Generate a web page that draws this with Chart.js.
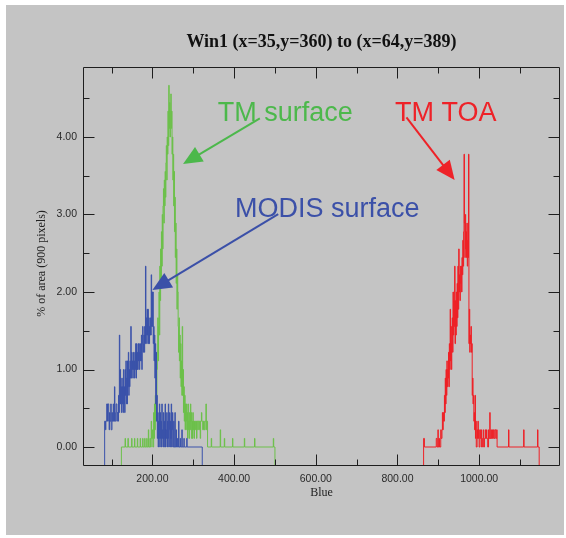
<!DOCTYPE html>
<html><head><meta charset="utf-8">
<script src="https://cdn.jsdelivr.net/npm/chart.js@4.4.0/dist/chart.umd.min.js"></script>
<style>html,body{margin:0;padding:0;background:#fff;}</style>
</head><body>
<canvas id="c" width="566" height="538"></canvas>
<script>
// ---- text ----
const chartTitle = "Win1 (x=35,y=360) to (x=64,y=389)";
const xTitle = "Blue";
const yTitle = "% of area (900 pixels)";
const totalPixels = 900;

// ---- ticks ----
const xMajorTicks = [200, 400, 600, 800, 1000];
const xMinorTicks = [100, 300, 500, 700, 900, 1100];
const yMajorTicks = [0, 1, 2, 3, 4];
const yMinorTicks = [0.5, 1.5, 2.5, 3.5, 4.5];
const xRange = [30, 1198];
const yRange = [-0.245, 4.903];

// ---- histogram bins: [bin value, pixel count] ----
const modisBins = [[83,3],[85,2],[86,3],[88,5],[90,3],[91,5],[93,3],[94,2],[95,4],[96,3],[98,5],[99,2],[101,4],[102,3],[104,5],[105,3],[107,7],[108,3],[110,4],[111,5],[113,3],[114,4],[116,3],[117,6],[118,4],[119,13],[120,5],[121,9],[122,5],[123,7],[124,4],[125,8],[126,5],[127,7],[128,4],[129,9],[130,5],[131,7],[132,4],[133,9],[134,6],[135,10],[136,5],[137,8],[138,5],[139,10],[140,7],[141,11],[142,6],[143,9],[144,7],[145,10],[146,8],[147,14],[148,8],[149,11],[150,9],[151,10],[152,8],[153,11],[154,9],[155,10],[156,8],[157,11],[158,9],[159,12],[160,8],[161,12],[162,9],[163,11],[164,9],[165,12],[166,10],[167,12],[168,9],[169,11],[170,10],[171,12],[172,10],[173,13],[174,9],[175,12],[176,14],[177,11],[178,12],[179,13],[180,11],[181,14],[182,12],[183,21],[184,13],[185,15],[186,12],[187,16],[188,13],[189,16],[190,12],[191,15],[192,12],[193,14],[194,13],[195,15],[196,13],[197,20],[198,14],[199,18],[200,14],[201,18],[202,12],[203,14],[204,10],[205,13],[206,8],[207,12],[208,5],[209,11],[210,3],[211,6],[212,1],[213,4],[214,0],[215,3],[216,1],[217,5],[218,0],[219,4],[220,1],[221,3],[222,0],[223,5],[224,1],[225,2],[226,0],[227,4],[228,1],[229,3],[230,0],[231,5],[232,0],[233,2],[234,1],[235,4],[236,0],[237,3],[238,1],[239,5],[240,0],[241,2],[242,4],[243,0],[244,3],[245,1],[246,5],[247,0],[248,2],[249,4],[250,0],[252,3],[253,0],[255,4],[256,0],[258,2],[259,0],[261,1],[262,0],[264,3],[265,0],[268,1],[269,0],[272,2],[273,0],[277,1],[278,0],[284,1],[285,0],[322,0]];

const tmSurfaceBins = [[124,0],[133,1],[134,0],[140,1],[141,0],[149,1],[150,0],[156,1],[157,0],[163,1],[164,0],[170,1],[171,0],[176,1],[177,0],[181,1],[182,0],[186,1],[187,0],[190,2],[191,0],[194,1],[195,0],[197,3],[198,1],[200,2],[201,0],[203,4],[204,1],[205,5],[206,2],[207,6],[208,3],[209,5],[210,6],[211,9],[212,11],[213,15],[214,10],[215,14],[216,18],[217,13],[218,21],[219,17],[220,23],[221,19],[222,25],[223,21],[224,27],[225,23],[226,28],[227,30],[228,26],[229,31],[230,28],[231,32],[232,29],[233,33],[234,35],[235,31],[236,36],[237,34],[238,39],[239,35],[240,42],[241,37],[242,40],[243,36],[244,39],[245,41],[246,37],[247,39],[248,34],[249,36],[250,31],[251,34],[252,28],[253,32],[254,25],[255,29],[256,22],[257,26],[258,19],[259,23],[260,16],[261,20],[262,18],[263,14],[264,11],[265,15],[266,10],[267,13],[268,8],[269,12],[270,7],[271,10],[272,6],[273,14],[274,6],[275,9],[276,4],[277,7],[278,3],[279,6],[280,2],[281,5],[282,3],[283,5],[284,2],[285,4],[286,1],[287,5],[288,2],[289,3],[290,1],[291,4],[292,2],[293,5],[294,3],[295,4],[296,1],[297,3],[298,1],[299,4],[300,2],[301,3],[302,1],[303,3],[305,2],[306,3],[308,1],[309,3],[311,2],[312,3],[314,2],[315,3],[317,1],[318,3],[320,4],[321,3],[323,2],[325,3],[327,2],[329,3],[331,5],[332,2],[333,3],[335,0],[344,1],[345,0],[366,2],[367,0],[376,1],[377,0],[396,1],[397,0],[425,1],[426,0],[450,1],[451,0],[496,1],[497,0],[500,0]];

const tmToaBins = [[864,1],[866,0],[895,1],[897,0],[899,2],[900,0],[902,1],[903,0],[906,2],[907,1],[909,2],[910,4],[911,2],[912,4],[913,3],[915,6],[916,4],[917,8],[918,5],[919,9],[920,6],[921,10],[922,7],[923,9],[924,8],[925,11],[926,7],[927,12],[928,9],[929,16],[930,10],[931,14],[932,9],[933,12],[934,15],[935,11],[936,18],[937,13],[938,17],[939,14],[940,21],[941,12],[942,17],[943,13],[944,18],[945,14],[946,19],[947,15],[948,21],[949,16],[950,23],[951,18],[952,20],[953,17],[954,21],[955,19],[956,21],[957,18],[958,22],[959,20],[960,24],[961,21],[962,25],[963,34],[964,26],[965,22],[966,27],[967,23],[968,25],[969,22],[970,26],[971,21],[972,24],[973,22],[974,34],[975,12],[976,16],[977,11],[978,13],[979,12],[980,14],[981,11],[982,12],[983,6],[984,8],[985,5],[986,6],[987,3],[988,4],[989,2],[990,6],[991,1],[992,3],[993,0],[995,2],[996,1],[997,3],[998,1],[999,2],[1000,0],[1002,2],[1003,1],[1005,2],[1006,0],[1008,1],[1010,2],[1011,0],[1013,1],[1015,2],[1016,1],[1018,2],[1019,1],[1021,0],[1023,2],[1024,1],[1026,4],[1027,1],[1029,2],[1030,1],[1032,2],[1033,1],[1035,2],[1037,1],[1039,2],[1041,1],[1043,2],[1044,0],[1072,2],[1073,0],[1109,2],[1110,0],[1143,2],[1144,0],[1147,0]];

// ---- annotations (data coordinates) ----
const annotations = [
  {text: "TM surface", color: "#4cb84b", x: 360, y: 4.206, fromX: 463, fromY: 4.241, toX: 275, toY: 3.652},
  {text: "MODIS surface", color: "#3b50a8", x: 402, y: 2.968, fromX: 508, fromY: 3.006, toX: 200, toY: 2.026},
  {text: "TM TOA", color: "#ee2228", x: 794, y: 4.206, fromX: 822, fromY: 4.254, toX: 940, toY: 3.445}
];

function toPoints(bins) {
  const below = yRange[0] - 1;
  const pts = [{x: bins[0][0], y: below}];
  bins.forEach(b => pts.push({x: b[0], y: b[1] * 100 / totalPixels}));
  pts.push({x: bins[bins.length - 1][0], y: below});
  return pts;
}

const SANS = "'Liberation Sans', Arial, Helvetica, sans-serif";
const SERIF = "'Liberation Serif', 'Times New Roman', Times, serif";

const decorPlugin = {
  id: 'decor',
  beforeDraw(chart) {
    const ctx = chart.ctx;
    ctx.save();
    ctx.fillStyle = '#ffffff';
    ctx.fillRect(0, 0, chart.width, chart.height);
    ctx.fillStyle = '#c4c4c4';
    ctx.fillRect(6, 5, chart.width - 8, chart.height - 8);
    ctx.restore();
  },
  afterDatasetsDraw(chart) {
    const {ctx, scales: {x, y}} = chart;
    ctx.save();
    annotations.forEach(a => {
      const fx = x.getPixelForValue(a.fromX), fy = y.getPixelForValue(a.fromY);
      const tx = x.getPixelForValue(a.toX), ty = y.getPixelForValue(a.toY);
      const dx = tx - fx, dy = ty - fy, len = Math.hypot(dx, dy);
      const ux = dx / len, uy = dy / len;
      const headLen = 19, headHalf = 8.5;
      const bx = tx - ux * headLen, by = ty - uy * headLen;
      ctx.strokeStyle = a.color; ctx.fillStyle = a.color; ctx.lineWidth = 2;
      ctx.beginPath(); ctx.moveTo(fx, fy); ctx.lineTo(bx + ux * 2, by + uy * 2); ctx.stroke();
      ctx.beginPath();
      ctx.moveTo(tx, ty);
      ctx.lineTo(bx - uy * headHalf, by + ux * headHalf);
      ctx.lineTo(bx + uy * headHalf, by - ux * headHalf);
      ctx.closePath(); ctx.fill();
      ctx.font = "27px " + SANS;
      ctx.textAlign = 'left'; ctx.textBaseline = 'alphabetic';
      ctx.fillText(a.text, x.getPixelForValue(a.x), y.getPixelForValue(a.y));
    });
    ctx.restore();
  },
  afterDraw(chart) {
    const {ctx, chartArea: ar, scales: {x, y}} = chart;
    ctx.save();
    ctx.strokeStyle = '#1e1e1e'; ctx.lineWidth = 1;
    const L = Math.round(ar.left) + 0.5, R = Math.round(ar.right) - 0.5;
    const T = Math.round(ar.top) + 0.5, B = Math.round(ar.bottom) - 0.5;
    ctx.beginPath();
    ctx.rect(L, T, R - L, B - T);
    const xt = (vals, l) => vals.forEach(v => {
      const p = Math.round(x.getPixelForValue(v)) + 0.5;
      ctx.moveTo(p, B); ctx.lineTo(p, B - l);
      ctx.moveTo(p, T); ctx.lineTo(p, T + l);
    });
    const yt = (vals, l) => vals.forEach(v => {
      const p = Math.round(y.getPixelForValue(v)) + 0.5;
      ctx.moveTo(L, p); ctx.lineTo(L + l, p);
      ctx.moveTo(R, p); ctx.lineTo(R - l, p);
    });
    xt(xMajorTicks, 11); xt(xMinorTicks, 6);
    yt(yMajorTicks, 11); yt(yMinorTicks, 6);
    ctx.stroke();

    ctx.fillStyle = '#111';
    ctx.textAlign = 'center'; ctx.textBaseline = 'middle';
    ctx.font = "bold 18px " + SERIF;
    ctx.fillText(chartTitle, (ar.left + ar.right) / 2, 42);
    ctx.font = "12px " + SERIF;
    ctx.fillStyle = '#222';
    ctx.fillText(xTitle, (ar.left + ar.right) / 2, 493);
    ctx.translate(42, (ar.top + ar.bottom) / 2 - 3);
    ctx.rotate(-Math.PI / 2);
    ctx.fillText(yTitle, 0, 0);
    ctx.restore();
  }
};

const lineDs = (label, bins, color) => ({
  label, data: toPoints(bins), borderColor: color, borderWidth: 1,
  pointRadius: 0, stepped: 'before', fill: false, tension: 0
});

new Chart(document.getElementById('c'), {
  type: 'line',
  data: {
    datasets: [
      lineDs('MODIS surface', modisBins, '#3a52aa'),
      lineDs('TM surface', tmSurfaceBins, '#6cc04a'),
      lineDs('TM TOA', tmToaBins, '#ee2026')
    ]
  },
  options: {
    responsive: false, animation: false, devicePixelRatio: 1,
    layout: {padding: {left: 0, right: 6, top: 67, bottom: 0}},
    plugins: {legend: {display: false}, tooltip: {enabled: false}, title: {display: false}},
    scales: {
      x: {
        type: 'linear', min: xRange[0], max: xRange[1],
        grid: {display: false, drawTicks: false}, border: {display: false},
        ticks: {font: {family: SANS, size: 10.5}, color: '#2a2a2a', padding: 7,
                autoSkip: false, maxRotation: 0, callback: v => Number(v).toFixed(2)},
        afterBuildTicks: s => { s.ticks = xMajorTicks.map(v => ({value: v})); },
        afterFit: s => { s.height = 72; }
      },
      y: {
        type: 'linear', min: yRange[0], max: yRange[1],
        grid: {display: false, drawTicks: false}, border: {display: false},
        ticks: {font: {family: SANS, size: 10.5}, color: '#2a2a2a', padding: 6,
                autoSkip: false, callback: v => Number(v).toFixed(2)},
        afterBuildTicks: s => { s.ticks = yMajorTicks.map(v => ({value: v})); },
        afterFit: s => { s.width = 83; }
      }
    }
  },
  plugins: [decorPlugin]
});
</script>
</body></html>
